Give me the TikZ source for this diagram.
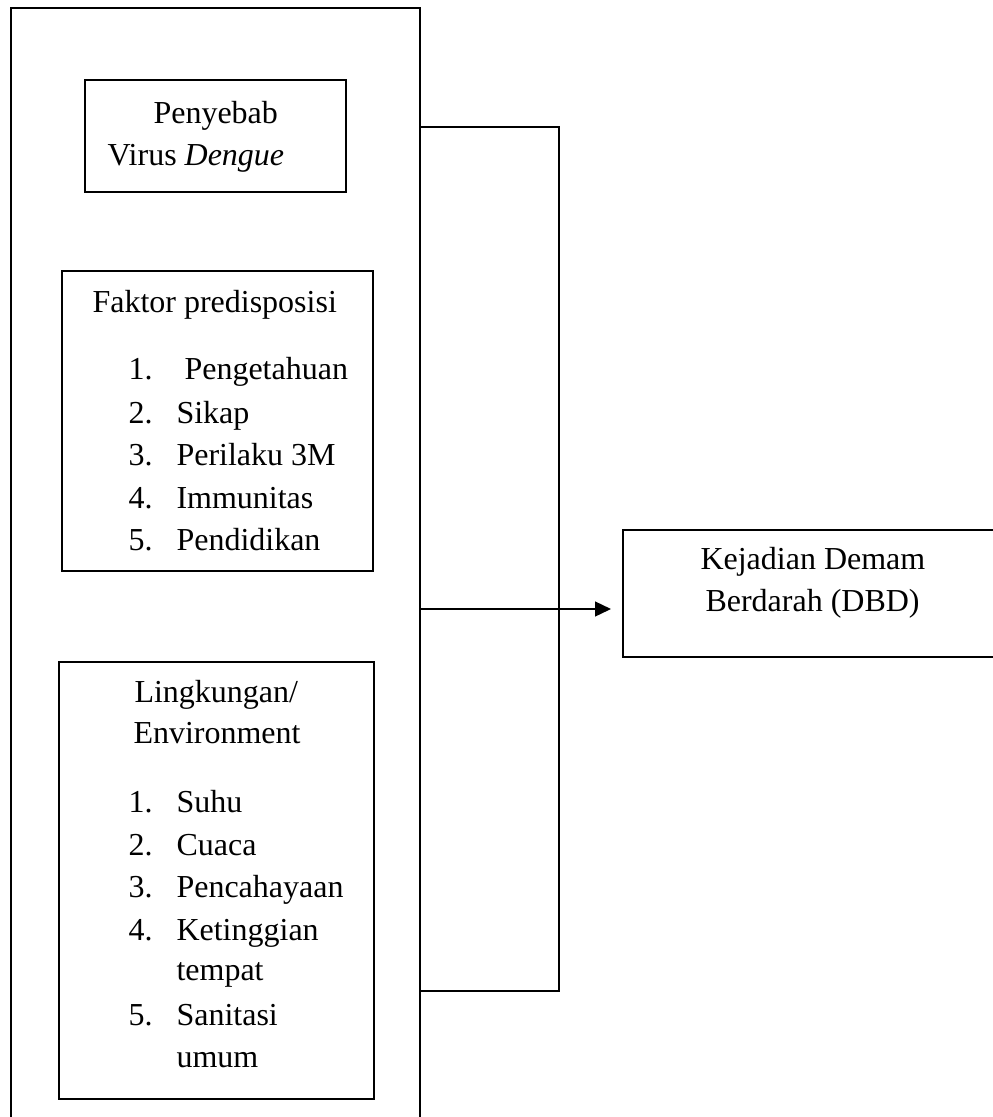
\documentclass[tikz,border=0pt]{standalone}
\usepackage{fontspec}
\setmainfont{Liberation Serif}
\usetikzlibrary{arrows.meta}

\newcommand{\px}{0.01318cm}
\tikzset{
  kotak/.style={draw,line width=0.75pt,inner sep=0pt,anchor=north west},
  tulisan/.style={anchor=base west,inner sep=0pt,font=\fontsize{12}{16}\selectfont},
  kurung/.style={line width=0.4pt},
  panah/.style={line width=0.6pt,-{Triangle[length=6pt,width=5.6pt]}}
}

\begin{document}
\begin{tikzpicture}[x=\px,y=-\px]
        \useasboundingbox (0,0) rectangle (993,1117);

        % kotak-kotak
        \node[kotak,minimum width=409*\px,minimum height=1140*\px] (kerangka) at (10,7) {};
        \node[kotak,minimum width=261*\px,minimum height=112*\px] (sebab) at (84,79) {};
        \node[kotak,minimum width=311*\px,minimum height=300*\px] (faktor) at (61,270) {};
        \node[kotak,minimum width=315*\px,minimum height=437*\px] (lingkungan) at (58,661) {};
        \node[kotak,minimum width=400*\px,minimum height=127*\px] (kejadian) at (622,529) {};

        % penyebab
        \node[tulisan] (sebabA) at (153,123) {Penyebab};
        \node[tulisan] (sebabB) at (107,165) {Virus \textit{Dengue}};

        % faktor predisposisi
        \node[tulisan] (faktorjudul) at (92,312) {Faktor predisposisi};
        \foreach \n/\isi/\yy in {1/\ Pengetahuan/379, 2/Sikap/423, 3/Perilaku 3M/465, 4/Immunitas/508, 5/Pendidikan/550} {
            \node[tulisan] (fnomor\n) at (128,\yy) {\n.};
            \node[tulisan] (fisi\n) at (176,\yy) {\isi};
        }

        % lingkungan
        \node[tulisan] (lingjudulA) at (134,702) {Lingkungan/};
        \node[tulisan] (lingjudulB) at (133,743) {Environment};
        \foreach \n/\isi/\yy in {1/Suhu/812, 2/Cuaca/855, 3/Pencahayaan/897, 4/Ketinggian/940, 5/Sanitasi/1025} {
            \node[tulisan] (lnomor\n) at (128,\yy) {\n.};
            \node[tulisan] (lisi\n) at (176,\yy) {\isi};
        }
        \node[tulisan] (lisi4b) at (176,980) {tempat};
        \node[tulisan] (lisi5b) at (176,1067) {umum};

        % kejadian
        \node[tulisan] (kejadianA) at (700,569) {Kejadian Demam};
        \node[tulisan] (kejadianB) at (705,611) {Berdarah (DBD)};

        % kurung dan panah
        \coordinate (kurungatas) at (559,127);
        \coordinate (kurungbawah) at (559,991);
        \coordinate (ujung) at (611,609);
        \draw[kurung] (kerangka.east |- kurungatas) -- (kurungatas) -- (kurungbawah) -- (kerangka.east |- kurungbawah);
        \draw[panah] (kerangka.east |- ujung) -- (ujung);
    \end{tikzpicture}
\end{document}
